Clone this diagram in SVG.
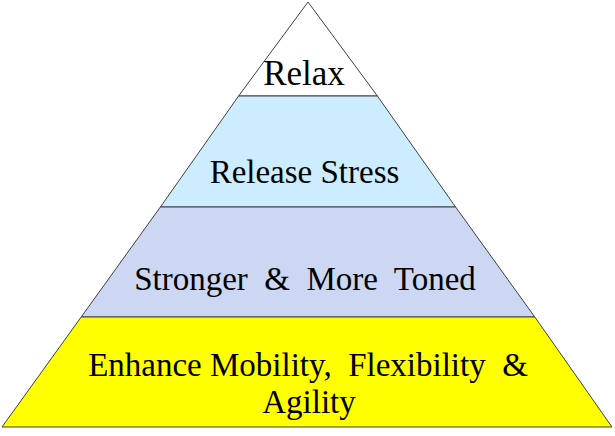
<svg xmlns="http://www.w3.org/2000/svg" width="615" height="436" viewBox="0 0 615 436">
<style>
.tier{stroke:#404040;stroke-width:1}
.lbl{font-family:'Liberation Serif','Times New Roman',serif;font-size:33px;fill:#000;text-anchor:middle}
</style>
<rect width="615" height="436" fill="#fff"/>
<g id="tier-relax">
<polygon class="tier" points="308,2 238.6,96 377.4,96" fill="#ffffff"/>
<text class="lbl" x="304" y="85" style="font-size:35px">Relax</text>
</g>
<g id="tier-release">
<polygon class="tier" points="238.6,96 160.4,207 455.6,207 377.4,96" fill="#ccecff"/>
<text class="lbl" x="304.5" y="183">Release Stress</text>
</g>
<g id="tier-stronger">
<polygon class="tier" points="160.4,207 81.2,317 534.8,317 455.6,207" fill="#ccd7f4"/>
<text class="lbl" x="305" y="290" xml:space="preserve">Stronger  &amp;  More  Toned</text>
</g>
<g id="tier-enhance">
<polygon class="tier" points="81.2,317 2,427 612,427 534.8,317" fill="#ffff00"/>
<text class="lbl" x="308" y="376" xml:space="preserve">Enhance Mobility,  Flexibility  &amp;</text>
<text class="lbl" x="309" y="413">Agility</text>
</g>
</svg>
